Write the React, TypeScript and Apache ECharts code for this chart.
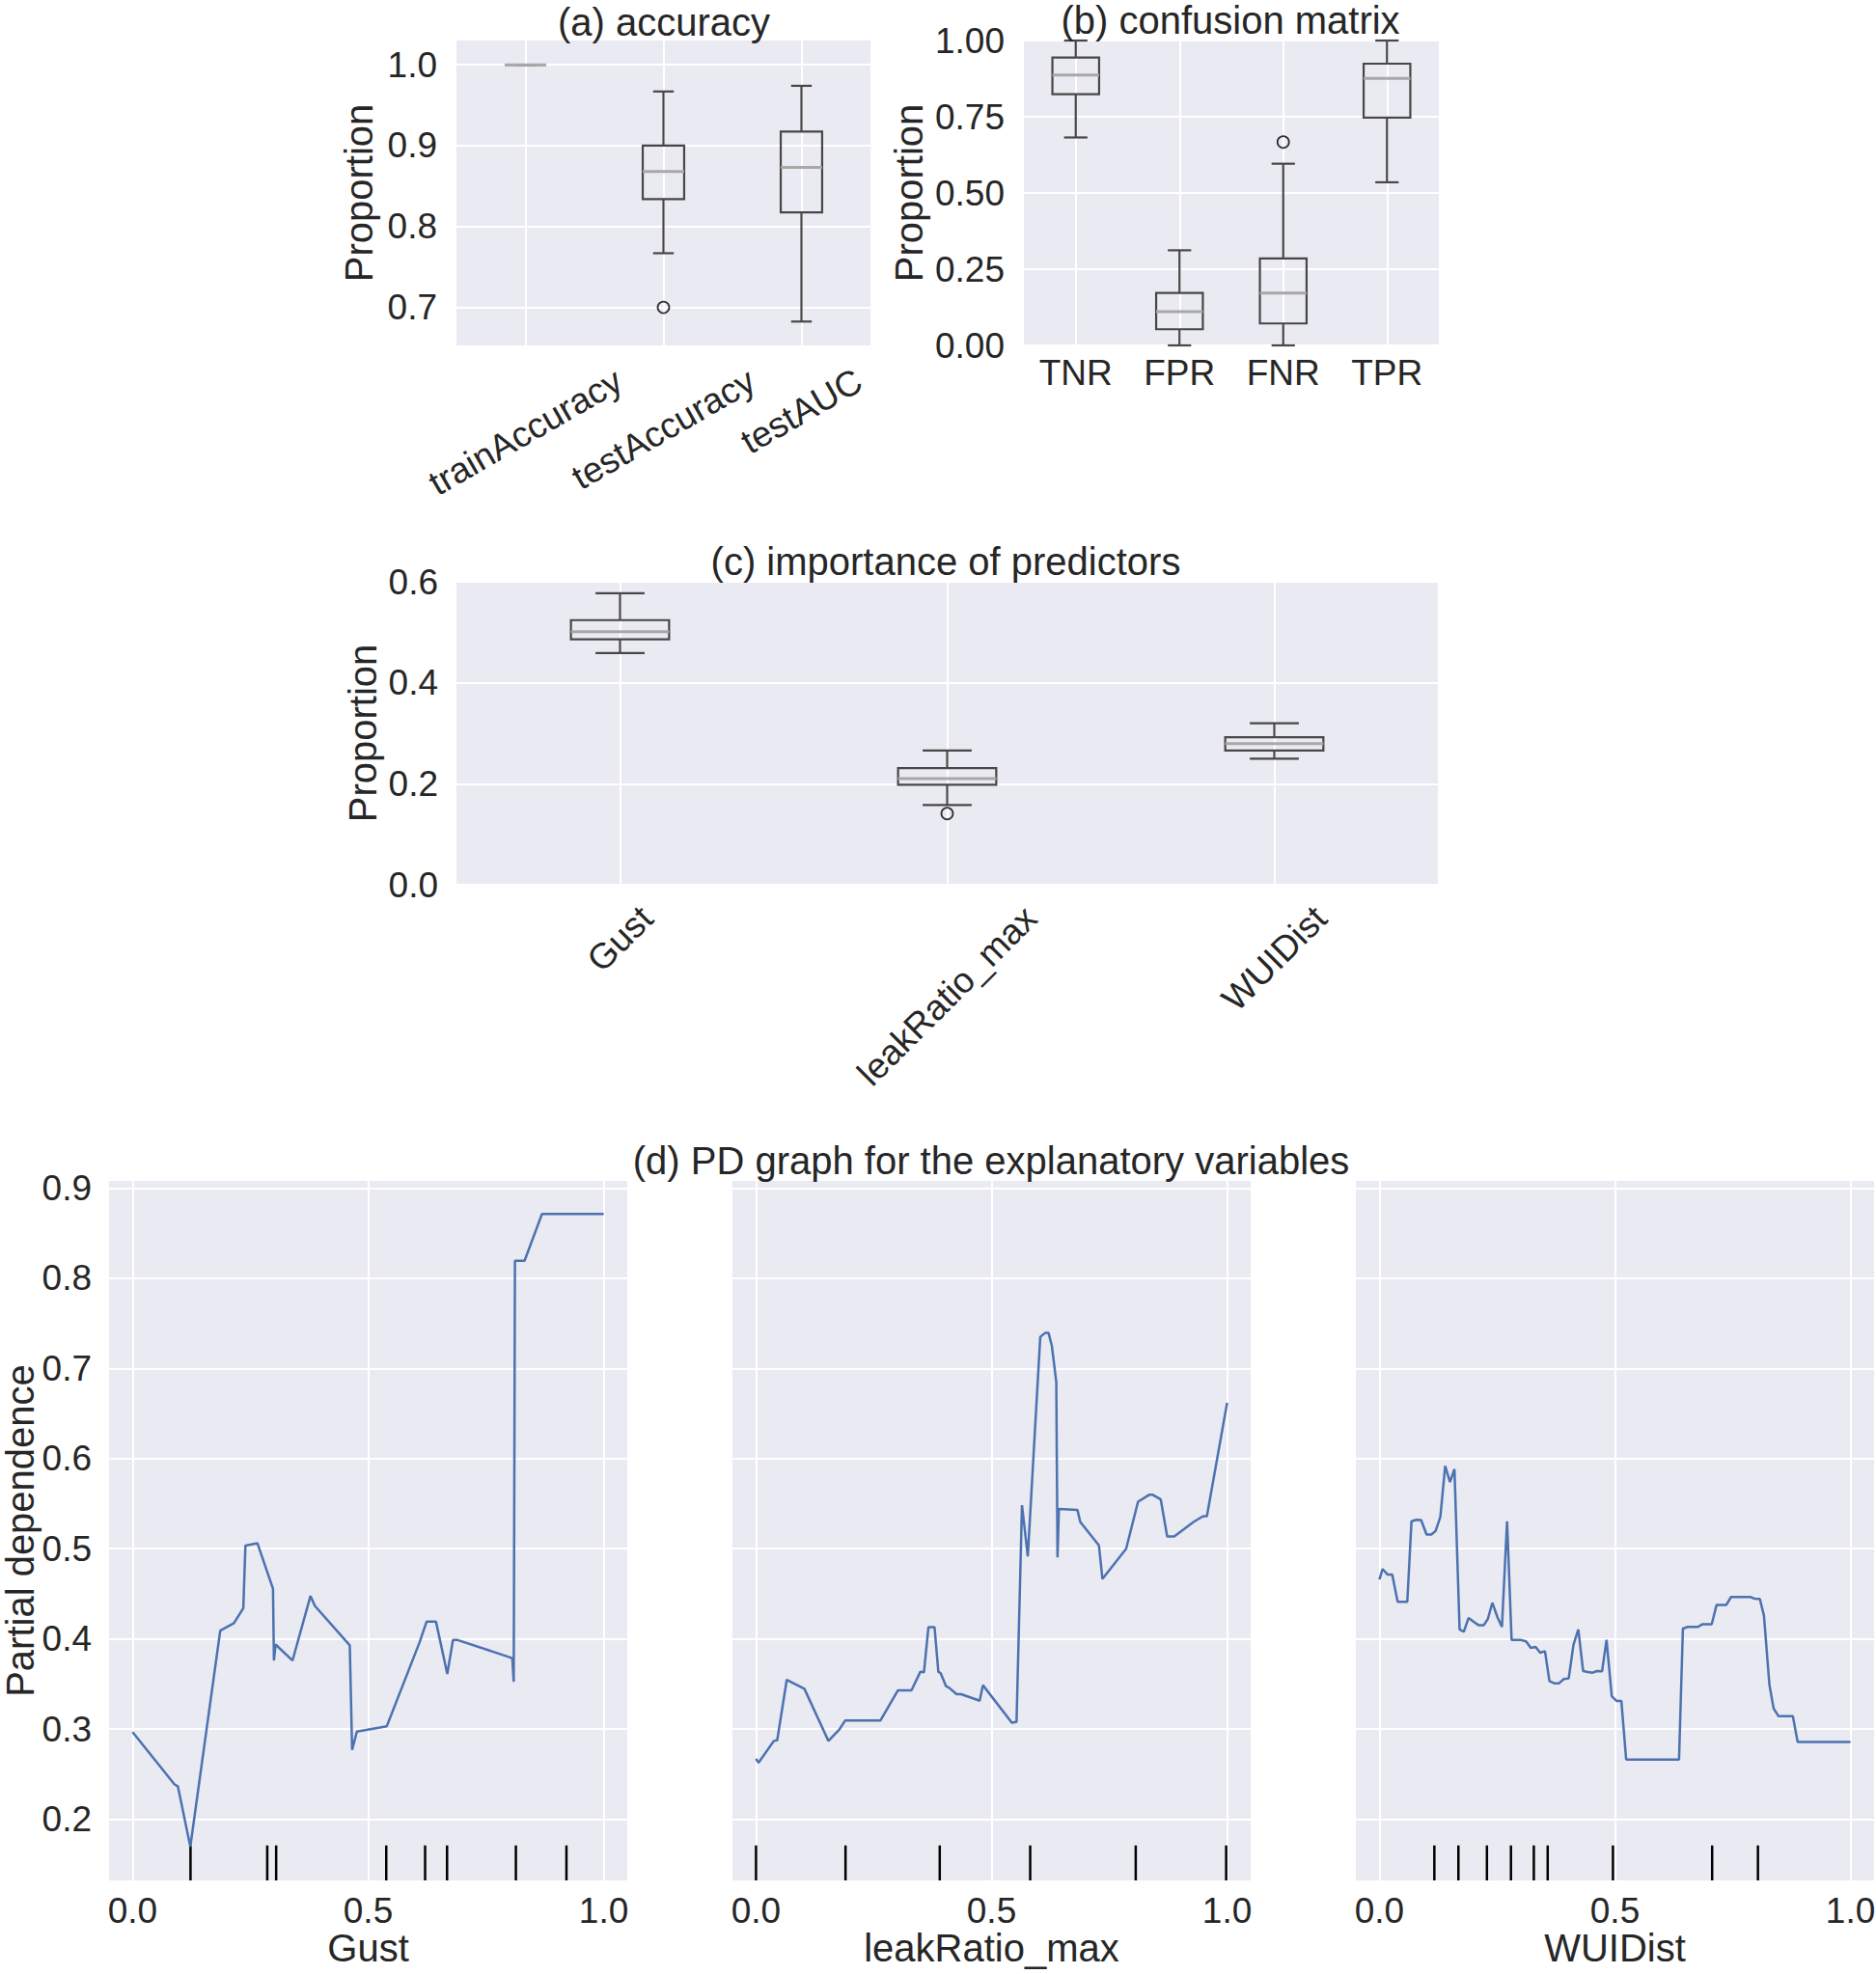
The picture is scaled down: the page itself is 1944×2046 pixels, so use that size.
import React, { useEffect, useRef } from 'react';
import * as echarts from 'echarts';

const FONT = '"Liberation Sans", Arial, Helvetica, sans-serif';
const TEXT = '#262626';
const BG = '#EAEAF2';
const BOX = '#474747';
const MED = '#a8a8a8';
const LINE = '#4C72B0';

// ---------- (a) accuracy ----------
const accCats = ['trainAccuracy', 'testAccuracy', 'testAUC'];
// [min, Q1, median, Q3, max]
const accStats = [
  [1.0, 1.0, 1.0, 1.0, 1.0],
  [0.767, 0.834, 0.868, 0.9, 0.967],
  [0.6825, 0.8175, 0.873, 0.9175, 0.974],
];
const accOutliers = [[1, 0.7]];

// ---------- (b) confusion matrix ----------
const cmCats = ['TNR', 'FPR', 'FNR', 'TPR'];
const cmStats = [
  [0.682, 0.824, 0.887, 0.944, 1.0],
  [0.0, 0.053, 0.111, 0.172, 0.312],
  [0.0, 0.072, 0.172, 0.285, 0.596],
  [0.535, 0.747, 0.876, 0.924, 1.0],
];
const cmOutliers = [[2, 0.667]];

// ---------- (c) importance ----------
const predCats = ['Gust', 'leakRatio_max', 'WUIDist'];
const predStats = [
  [0.459, 0.486, 0.501, 0.524, 0.5775],
  [0.158, 0.198, 0.21, 0.231, 0.266],
  [0.2495, 0.266, 0.2795, 0.292, 0.32],
];
const predOutliers = [[1, 0.141]];

// ---------- (d) partial dependence ----------
const gustX = [0, 0.089, 0.096, 0.1225, 0.186, 0.215, 0.235, 0.2395, 0.265, 0.298, 0.3, 0.3035, 0.3395, 0.3776, 0.387, 0.461, 0.466, 0.476, 0.5395, 0.609, 0.624, 0.644, 0.668, 0.68, 0.69, 0.806, 0.809, 0.8116, 0.832, 0.869, 1.0];
const gustY = [0.2965, 0.2385, 0.2365, 0.1695, 0.409, 0.4174, 0.434, 0.5035, 0.506, 0.4557, 0.376, 0.3937, 0.376, 0.4476, 0.4365, 0.3927, 0.2768, 0.297, 0.303, 0.396, 0.419, 0.419, 0.361, 0.3987, 0.3987, 0.3786, 0.3524, 0.8194, 0.8194, 0.8713, 0.8713];
const gustDeciles = [0.1229, 0.2858, 0.3047, 0.5384, 0.6209, 0.6675, 0.8136, 0.9209];

const leakX = [0, 0.0054, 0.038, 0.045, 0.0653, 0.1027, 0.1537, 0.1769, 0.1891, 0.264, 0.3014, 0.33, 0.349, 0.3565, 0.366, 0.379, 0.387, 0.392, 0.4034, 0.41, 0.4259, 0.4354, 0.4748, 0.4816, 0.5429, 0.553, 0.5646, 0.5769, 0.6034, 0.6136, 0.621, 0.628, 0.6374, 0.64, 0.6429, 0.6823, 0.6884, 0.7279, 0.7354, 0.7857, 0.8109, 0.8354, 0.8415, 0.8592, 0.8728, 0.8878, 0.9286, 0.949, 0.9571, 1.0];
const leakY = [0.267, 0.2625, 0.2868, 0.2875, 0.3546, 0.3446, 0.2868, 0.2993, 0.3093, 0.3093, 0.3429, 0.3429, 0.3636, 0.3629, 0.4129, 0.4129, 0.3636, 0.3618, 0.3475, 0.3457, 0.3386, 0.3386, 0.3314, 0.3486, 0.3071, 0.3079, 0.5482, 0.4914, 0.735, 0.7393, 0.7393, 0.725, 0.685, 0.4904, 0.544, 0.5429, 0.5296, 0.5036, 0.4664, 0.5, 0.5521, 0.56, 0.56, 0.5546, 0.5136, 0.5136, 0.5296, 0.5361, 0.5361, 0.6618];
const leakDeciles = [0.0, 0.19, 0.39, 0.582, 0.806, 0.998];

const wuiX = [0, 0.0068, 0.017, 0.0272, 0.0388, 0.0592, 0.0681, 0.0783, 0.0885, 0.1001, 0.1103, 0.1192, 0.1294, 0.1396, 0.1498, 0.1593, 0.1702, 0.1791, 0.1893, 0.2009, 0.2111, 0.2213, 0.2302, 0.2397, 0.2506, 0.2601, 0.271, 0.2806, 0.2996, 0.3112, 0.3214, 0.3316, 0.3412, 0.3514, 0.3609, 0.3711, 0.3813, 0.3916, 0.4018, 0.412, 0.4222, 0.4324, 0.4426, 0.4528, 0.4617, 0.4726, 0.4821, 0.4932, 0.5034, 0.5136, 0.5238, 0.636, 0.6442, 0.6544, 0.6762, 0.685, 0.7054, 0.7156, 0.7361, 0.7463, 0.7871, 0.7959, 0.8075, 0.8163, 0.8279, 0.8367, 0.8469, 0.8776, 0.8878, 1.0];
const wuiY = [0.4657, 0.4775, 0.4714, 0.4714, 0.4411, 0.4411, 0.5304, 0.5321, 0.5318, 0.5157, 0.5157, 0.5196, 0.5354, 0.5918, 0.5739, 0.5882, 0.4104, 0.4079, 0.4232, 0.4186, 0.415, 0.415, 0.4221, 0.44, 0.4239, 0.4132, 0.5304, 0.3989, 0.3989, 0.3971, 0.39, 0.3911, 0.3846, 0.3864, 0.3532, 0.3507, 0.3507, 0.3554, 0.3561, 0.3936, 0.4104, 0.3643, 0.3632, 0.3625, 0.3643, 0.3639, 0.3989, 0.3364, 0.3311, 0.3311, 0.2661, 0.2661, 0.4114, 0.4132, 0.4132, 0.4161, 0.4161, 0.4375, 0.4375, 0.4464, 0.4464, 0.4446, 0.4443, 0.4257, 0.3489, 0.3229, 0.3143, 0.3143, 0.2857, 0.2857];
const wuiDeciles = [0.1166, 0.1677, 0.2282, 0.2792, 0.3278, 0.3572, 0.4957, 0.7063, 0.8035];

const pdNames = ['Gust', 'leakRatio_max', 'WUIDist'];

const zip = (xs: number[], ys: number[]) => xs.map((x, i) => [x, ys[i]]);

const roundFmt = (step: number, digits: number) => (v: number) => {
  const k = Math.round(v / step);
  return Math.abs(v / step - k) < 1e-6 ? v.toFixed(digits) : '';
};

const TICK_FS = 37;
const NAME_FS = 40;

const gridLine = { show: true, lineStyle: { color: '#ffffff', width: 2 } };

function boxRender(ratio: number) {
  return (params: any, api: any) => {
    const ci = api.value(0);
    const pMin = api.coord([ci, api.value(1)]);
    const cx = pMin[0];
    const yMin = pMin[1];
    const yQ1 = api.coord([ci, api.value(2)])[1];
    const yMed = api.coord([ci, api.value(3)])[1];
    const yQ3 = api.coord([ci, api.value(4)])[1];
    const yMax = api.coord([ci, api.value(5)])[1];
    const bw = api.size([1, 0])[0] * ratio;
    const cw = bw / 2;
    const st = { stroke: BOX, lineWidth: 2.2, fill: 'none' };
    return {
      type: 'group',
      children: [
        { type: 'line', shape: { x1: cx, y1: yQ1, x2: cx, y2: yMin }, style: st },
        { type: 'line', shape: { x1: cx, y1: yQ3, x2: cx, y2: yMax }, style: st },
        { type: 'line', shape: { x1: cx - cw / 2, y1: yMin, x2: cx + cw / 2, y2: yMin }, style: st },
        { type: 'line', shape: { x1: cx - cw / 2, y1: yMax, x2: cx + cw / 2, y2: yMax }, style: st },
        { type: 'rect', shape: { x: cx - bw / 2, y: yQ3, width: bw, height: yQ1 - yQ3 }, style: st },
        { type: 'line', shape: { x1: cx - bw / 2, y1: yMed, x2: cx + bw / 2, y2: yMed }, style: { stroke: MED, lineWidth: 3 } },
      ],
    };
  };
}

function rugRender(params: any, api: any) {
  const x = api.coord([api.value(0), 0.5])[0];
  const cs = params.coordSys;
  const yb = cs.y + cs.height;
  return {
    type: 'line',
    shape: { x1: x, y1: yb, x2: x, y2: yb - cs.height * 0.05 },
    style: { stroke: '#000', lineWidth: 2.5 },
  };
}

const App: React.FC = () => {
  const ref = useRef<HTMLDivElement>(null);

  useEffect(() => {
    if (!ref.current) return;
    const chart = echarts.init(ref.current, undefined, { renderer: 'svg' });

    const catX = (gridIndex: number, data: string[], showLabel: boolean) => ({
      type: 'category',
      gridIndex,
      data,
      axisLine: { show: false },
      axisTick: { show: false },
      axisLabel: { show: showLabel, interval: 0, fontSize: TICK_FS, fontFamily: FONT, color: TEXT, margin: 10 },
      splitLine: { ...gridLine, interval: 0, alignWithLabel: true },
    });

    const valY = (gridIndex: number, extra: any, name: string, nameGap: number) => ({
      type: 'value',
      gridIndex,
      name,
      nameLocation: 'middle',
      nameGap,
      nameRotate: 90,
      nameMoveOverlap: false,
      nameTextStyle: { fontSize: NAME_FS, fontFamily: FONT, color: TEXT },
      axisLine: { show: false },
      axisTick: { show: false },
      splitLine: { ...gridLine, showMinLine: false, showMaxLine: false },
      ...extra,
    });

    const pdX = (gridIndex: number, name: string) => ({
      type: 'value',
      gridIndex,
      min: -0.05,
      max: 1.05,
      splitNumber: 2,
      name,
      nameLocation: 'middle',
      nameGap: 50,
      nameMoveOverlap: false,
      nameTextStyle: { fontSize: NAME_FS, fontFamily: FONT, color: TEXT },
      axisLine: { show: false },
      axisTick: { show: false },
      axisLabel: {
        fontSize: TICK_FS, fontFamily: FONT, color: TEXT, margin: 13,
        showMinLabel: false, showMaxLabel: false,
        formatter: roundFmt(0.5, 1),
      },
      splitLine: { ...gridLine, showMinLine: false, showMaxLine: false },
    });

    const pdY = (gridIndex: number, showLabel: boolean) => ({
      type: 'value',
      gridIndex,
      min: 0.132,
      max: 0.908,
      splitNumber: 8,
      name: showLabel ? 'Partial dependence' : '',
      nameLocation: 'middle',
      nameGap: 72,
      nameRotate: 90,
      nameMoveOverlap: false,
      nameTextStyle: { fontSize: NAME_FS, fontFamily: FONT, color: TEXT },
      axisLine: { show: false },
      axisTick: { show: false },
      axisLabel: {
        show: showLabel, fontSize: TICK_FS, fontFamily: FONT, color: TEXT, margin: 18,
        showMinLabel: false, showMaxLabel: false,
        formatter: roundFmt(0.1, 1),
      },
      splitLine: { ...gridLine, showMinLine: false, showMaxLine: false },
    });

    const gridBase = { show: true, backgroundColor: BG, borderWidth: 0, containLabel: false, outerBoundsMode: 'none' };

    const outlierStyle = {
      type: 'scatter',
      symbol: 'circle',
      symbolSize: 12,
      itemStyle: { color: 'transparent', borderColor: '#000', borderWidth: 1.8 },
      z: 5,
    };

    const option: any = {
      animation: false,
      backgroundColor: '#ffffff',
      textStyle: { fontFamily: FONT, color: TEXT },
      grid: [
        { ...gridBase, left: 473, top: 42, width: 429, height: 316 },
        { ...gridBase, left: 1061, top: 42, width: 430, height: 316 },
        { ...gridBase, left: 473, top: 603, width: 1017, height: 314 },
        { ...gridBase, left: 113, top: 1224, width: 537, height: 725 },
        { ...gridBase, left: 759, top: 1224, width: 537, height: 725 },
        { ...gridBase, left: 1405, top: 1224, width: 537, height: 725 },
      ],
      xAxis: [
        catX(0, accCats, false),
        catX(1, cmCats, true),
        catX(2, predCats, false),
        pdX(3, pdNames[0]),
        pdX(4, pdNames[1]),
        pdX(5, pdNames[2]),
      ],
      yAxis: [
        valY(0, {
          min: 0.653, max: 1.03, splitNumber: 4,
          axisLabel: { fontSize: TICK_FS, fontFamily: FONT, color: TEXT, margin: 20, showMinLabel: false, showMaxLabel: false, formatter: roundFmt(0.1, 1) },
        }, 'Proportion', 81),
        valY(1, {
          min: 0, max: 1, interval: 0.25,
          axisLabel: { fontSize: TICK_FS, fontFamily: FONT, color: TEXT, margin: 20, formatter: (v: number) => v.toFixed(2) },
          splitLine: { ...gridLine },
        }, 'Proportion', 99),
        valY(2, {
          min: 0, max: 0.6, interval: 0.2,
          axisLabel: { fontSize: TICK_FS, fontFamily: FONT, color: TEXT, margin: 19, formatter: (v: number) => v.toFixed(1) },
          splitLine: { ...gridLine },
        }, 'Proportion', 77),
        pdY(3, true),
        pdY(4, false),
        pdY(5, false),
      ],
      series: [
        { type: 'custom', xAxisIndex: 0, yAxisIndex: 0, renderItem: boxRender(0.3), encode: { x: 0, y: [1, 2, 3, 4, 5] }, data: accStats.map((s, i) => [i, ...s]), z: 4 },
        { ...outlierStyle, xAxisIndex: 0, yAxisIndex: 0, data: accOutliers },
        { type: 'custom', xAxisIndex: 1, yAxisIndex: 1, renderItem: boxRender(0.45), encode: { x: 0, y: [1, 2, 3, 4, 5] }, data: cmStats.map((s, i) => [i, ...s]), z: 4 },
        { ...outlierStyle, xAxisIndex: 1, yAxisIndex: 1, data: cmOutliers },
        { type: 'custom', xAxisIndex: 2, yAxisIndex: 2, renderItem: boxRender(0.3), encode: { x: 0, y: [1, 2, 3, 4, 5] }, data: predStats.map((s, i) => [i, ...s]), z: 4 },
        { ...outlierStyle, xAxisIndex: 2, yAxisIndex: 2, data: predOutliers },
        { type: 'line', xAxisIndex: 3, yAxisIndex: 3, data: zip(gustX, gustY), showSymbol: false, symbol: 'none', lineStyle: { color: LINE, width: 2.5 } },
        { type: 'line', xAxisIndex: 4, yAxisIndex: 4, data: zip(leakX, leakY), showSymbol: false, symbol: 'none', lineStyle: { color: LINE, width: 2.5 } },
        { type: 'line', xAxisIndex: 5, yAxisIndex: 5, data: zip(wuiX, wuiY), showSymbol: false, symbol: 'none', lineStyle: { color: LINE, width: 2.5 } },
        { type: 'custom', xAxisIndex: 3, yAxisIndex: 3, renderItem: rugRender, encode: { x: 0 }, data: gustDeciles.map((v) => [v]) },
        { type: 'custom', xAxisIndex: 4, yAxisIndex: 4, renderItem: rugRender, encode: { x: 0 }, data: leakDeciles.map((v) => [v]) },
        { type: 'custom', xAxisIndex: 5, yAxisIndex: 5, renderItem: rugRender, encode: { x: 0 }, data: wuiDeciles.map((v) => [v]) },
      ],
    };

    chart.setOption(option);

    // rotated category labels (centered under ticks, like matplotlib)
    const canvas = document.createElement('canvas');
    const ctx = canvas.getContext('2d') as CanvasRenderingContext2D;
    ctx.font = `${TICK_FS}px ${FONT}`;
    const rotLabels = (axisIndex: number, cats: string[], deg: number, top: number) => {
      const th = (deg * Math.PI) / 180;
      return cats.map((c) => {
        const x = chart.convertToPixel({ xAxisIndex: axisIndex } as any, c) as unknown as number;
        const w = ctx.measureText(c).width;
        const h = 27;
        const bh = w * Math.sin(th) + h * Math.cos(th);
        return {
          type: 'text',
          x,
          y: top + bh / 2,
          rotation: th,
          z: 10,
          style: { text: c, fontSize: TICK_FS, fontFamily: FONT, fill: TEXT, align: 'center', verticalAlign: 'middle' },
        };
      });
    };

    const title = (text: string, x: number, y: number) => ({
      type: 'text',
      x,
      y,
      z: 10,
      style: { text, fontSize: NAME_FS, fontFamily: FONT, fill: TEXT, align: 'center', verticalAlign: 'middle' },
    });

    chart.setOption({
      graphic: {
        elements: [
          title('(a) accuracy', 688, 23),
          title('(b) confusion matrix', 1275, 21),
          title('(c) importance of predictors', 980, 582),
          title('(d) PD graph for the explanatory variables', 1027, 1203),
          ...rotLabels(0, accCats, 30, 380),
          ...rotLabels(2, predCats, 45, 936),
        ],
      },
    });

    return () => {
      chart.dispose();
    };
  }, []);

  return (
    <div
      ref={ref}
      style={{ position: 'absolute', left: 0, top: 0, width: '1944px', height: '2046px', background: '#ffffff' }}
    />
  );
};

export default App;
